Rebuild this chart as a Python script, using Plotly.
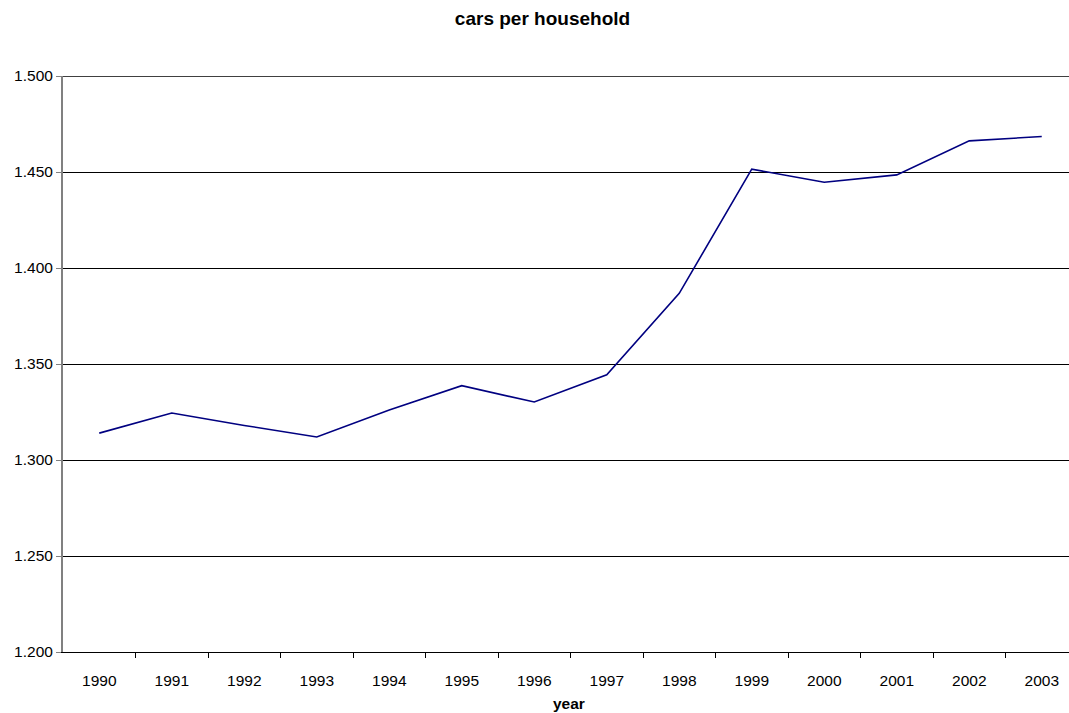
import plotly.graph_objects as go

# Average number of cars per household, by year
years = [1990, 1991, 1992, 1993, 1994, 1995, 1996, 1997, 1998, 1999, 2000, 2001, 2002, 2003]
cars_per_household = [1.314, 1.3245, 1.318, 1.312, 1.326, 1.3387, 1.3302, 1.3444,
                      1.3868, 1.4515, 1.4447, 1.4485, 1.4662, 1.4685]
y_ticks = [1.20, 1.25, 1.30, 1.35, 1.40, 1.45, 1.50]

FONT = "Liberation Sans, Arial, sans-serif"

fig = go.Figure()
fig.add_trace(go.Scatter(
    x=years, y=cars_per_household, mode="lines",
    line=dict(color="#000080", width=1.6),
    hoverinfo="x+y", showlegend=False,
))

# category separators sit halfway between the years
separators = [y + 0.5 for y in years]

fig.update_layout(
    width=1069, height=713,
    margin=dict(l=63, r=0, t=76, b=61),
    paper_bgcolor="white", plot_bgcolor="white",
    font=dict(family=FONT, size=15.5, color="#000000"),
    title=dict(
        text="<b>cars per household</b>",
        font=dict(family=FONT, size=19, color="#000000"),
        x=542.5 / 1069, xref="container", xanchor="center",
        y=1 - 18 / 713, yref="container", yanchor="middle",
    ),
    xaxis=dict(
        range=[years[0] - 0.5, years[0] - 0.5 + 1006 / 72.5],
        tickvals=years, ticktext=[str(y) for y in years],
        ticks="", ticklabelstandoff=14,
        showgrid=False, zeroline=False,
        showline=True, linecolor="#000000", linewidth=1,
        minor=dict(tickvals=separators, ticks="outside", ticklen=5,
                   tickcolor="#000000", tickwidth=1, showgrid=False),
        tickfont=dict(family=FONT, size=15.5, color="#000000"),
    ),
    yaxis=dict(
        range=[y_ticks[0], y_ticks[-1]], tickvals=y_ticks, tickformat=".3f",
        ticks="outside", ticklen=5, tickcolor="#808080", tickwidth=1,
        showgrid=True, gridcolor="#000000", gridwidth=1,
        zeroline=False,
        showline=True, linecolor="#808080", linewidth=2,
        tickfont=dict(family=FONT, size=15.5, color="#000000"),
    ),
    annotations=[dict(
        text="<b>year</b>", showarrow=False,
        xref="paper", x=(569 - 63) / 1006, xanchor="center",
        yref="paper", y=-(704 - 652.3) / 576.6, yanchor="middle",
        font=dict(family=FONT, size=15.5, color="#000000"),
    )],
)

# gridline along the top of the value range
fig.add_shape(type="line", xref="paper", x0=0, x1=1, yref="y",
              y0=y_ticks[-1], y1=y_ticks[-1],
              line=dict(color="#000000", width=1.5), layer="below")

fig.write_html("out.html")
